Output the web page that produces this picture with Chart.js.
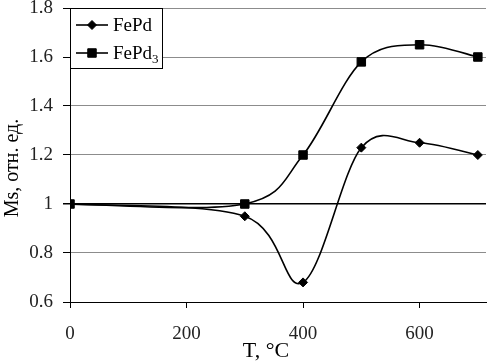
<!DOCTYPE html>
<html lang="ru">
<head>
  <meta charset="UTF-8">
  <title>Ms(T)</title>
  <script src="https://cdn.jsdelivr.net/npm/chart.js"></script>
  <style>
    html, body { margin: 0; padding: 0; background: #fff; }
    #wrap { width: 493px; height: 361px; }
  </style>
</head>
<body>
  <div id="wrap"><canvas id="msChart" width="493" height="361"></canvas></div>

  <script>
    // данные
    const temps = [0, 300, 400, 500, 600, 700];
    const fePd = [1, 0.95, 0.68, 1.23, 1.25, 1.2];
    const fePd3 = [1, 1.0, 1.2, 1.58, 1.65, 1.6];
    const xTicks = [0, 200, 400, 600];
    const seriesNames = ['FePd', 'FePd'];
    const seriesSubs = ['', '3'];
    const xTitle = 'T, °C';
    const yTitle = 'Ms, отн. ед.';

    const FONT = '"Liberation Serif", "Times New Roman", serif';

    function points(ys) {
      return temps.map((t, i) => ({ x: t, y: ys[i] }));
    }

    // сглаживание как в Excel: касательная = (P[i+1] - P[i-1]) / 6
    const excelSmooth = {
      id: 'excelSmooth',
      beforeDatasetsDraw(chart) {
        chart.data.datasets.forEach((ds, di) => {
          const meta = chart.getDatasetMeta(di);
          meta.dataset.updateControlPoints(chart.chartArea, 'x');
          const pts = meta.data;
          const n = pts.length;
          for (let i = 0; i < n; i++) {
            const prev = pts[Math.max(i - 1, 0)];
            const next = pts[Math.min(i + 1, n - 1)];
            const tx = (next.x - prev.x) / 6;
            const ty = (next.y - prev.y) / 6;
            pts[i].cp1x = pts[i].x - tx;
            pts[i].cp1y = pts[i].y - ty;
            pts[i].cp2x = pts[i].x + tx;
            pts[i].cp2y = pts[i].y + ty;
          }
        });
      }
    };

    // легенда в рамке и подписи осей
    const extras = {
      id: 'extras',
      afterDraw(chart) {
        const ctx = chart.ctx;
        ctx.save();
        ctx.fillStyle = '#fff';
        ctx.fillRect(70, 8, 92, 60);
        ctx.strokeStyle = '#000';
        ctx.lineWidth = 1;
        ctx.strokeRect(70.5, 8.5, 92, 60);

        const rows = [25, 53];
        chart.data.datasets.forEach((ds, i) => {
          const y = rows[i];
          ctx.strokeStyle = '#000';
          ctx.fillStyle = '#000';
          ctx.lineWidth = 1.6;
          ctx.beginPath();
          ctx.moveTo(76, y);
          ctx.lineTo(108, y);
          ctx.stroke();
          ctx.lineWidth = 1;
          Chart.helpers.drawPoint(ctx, {
            pointStyle: ds.pointStyle,
            radius: ds.pointRadius,
            borderWidth: 1
          }, 92, y);
          ctx.font = '19px ' + FONT;
          ctx.textBaseline = 'alphabetic';
          ctx.textAlign = 'left';
          ctx.fillText(seriesNames[i], 113, y + 6);
          if (seriesSubs[i]) {
            const w = ctx.measureText(seriesNames[i]).width;
            ctx.font = '13px ' + FONT;
            ctx.fillText(seriesSubs[i], 113 + w, y + 10);
          }
        });

        // подписи осей
        ctx.fillStyle = '#000';
        ctx.font = '22px ' + FONT;
        ctx.textAlign = 'center';
        ctx.textBaseline = 'alphabetic';
        ctx.fillText(xTitle, 266, 357);

        ctx.translate(13, 168);
        ctx.rotate(-Math.PI / 2);
        ctx.font = '20px ' + FONT;
        ctx.textBaseline = 'middle';
        ctx.fillText(yTitle, 0, 0);
        ctx.restore();
      }
    };

    const ctx = document.getElementById('msChart').getContext('2d');
    new Chart(ctx, {
      type: 'line',
      data: {
        datasets: [{
          label: 'FePd',
          data: points(fePd),
          borderColor: '#000',
          backgroundColor: '#000',
          borderWidth: 1.6,
          pointStyle: 'rectRot',
          pointRadius: 4.5,
          pointBorderWidth: 1,
          tension: 0.4
        }, {
          label: 'FePd3',
          data: points(fePd3),
          borderColor: '#000',
          backgroundColor: '#000',
          borderWidth: 1.6,
          pointStyle: 'rect',
          pointRadius: 6,
          pointBorderWidth: 1,
          tension: 0.4
        }]
      },
      options: {
        responsive: false,
        animation: false,
        layout: { padding: { top: 8, right: 2, left: 0, bottom: 0 } },
        plugins: {
          legend: { display: false },
          tooltip: { enabled: false }
        },
        scales: {
          x: {
            type: 'linear',
            min: 0,
            max: 714,
            afterBuildTicks(scale) {
              scale.ticks = xTicks.map(v => ({ value: v }));
            },
            afterFit(scale) {
              scale.height = 59;
              scale.paddingLeft = 0;
              scale.paddingRight = 0;
            },
            grid: {
              drawOnChartArea: false,
              drawTicks: true,
              tickLength: 6,
              tickColor: '#000'
            },
            border: { display: true, color: '#000', width: 1 },
            ticks: {
              color: '#222',
              padding: 15,
              maxRotation: 0,
              font: { family: FONT, size: 19 }
            }
          },
          y: {
            min: 0.6,
            max: 1.8,
            ticks: {
              stepSize: 0.2,
              color: '#222',
              padding: 10,
              font: { family: FONT, size: 19 },
              callback: v => String(Number(v.toFixed(1)))
            },
            afterFit(scale) {
              scale.width = 70;
              scale.paddingTop = 0;
              scale.paddingBottom = 0;
            },
            grid: {
              color: c => (Math.abs(c.tick.value - 1) < 1e-6 ? '#000' : '#8c8c8c'),
              lineWidth: c => (Math.abs(c.tick.value - 1) < 1e-6 ? 1.5 : 1),
              tickLength: 7,
              tickColor: '#000'
            },
            border: { display: true, color: '#000', width: 1 }
          }
        }
      },
      plugins: [excelSmooth, extras]
    });
  </script>
</body>
</html>
